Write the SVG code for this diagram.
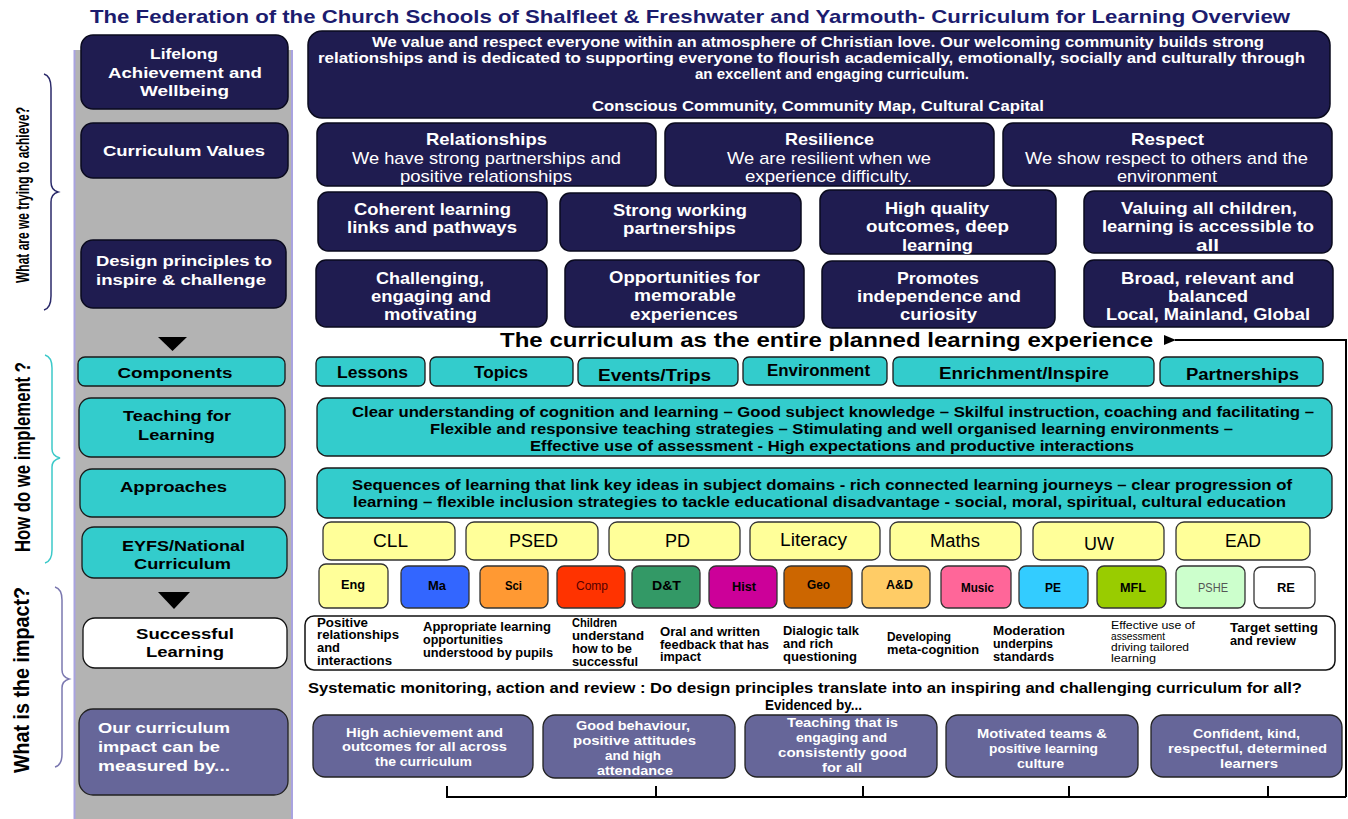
<svg xmlns="http://www.w3.org/2000/svg" width="1348" height="819" viewBox="0 0 1348 819">
<defs>
<style>
.nv{fill:#1f1c50;stroke:#0a0a1e;stroke-width:1.5}
.tl{fill:#33cccc;stroke:#1a1a1a;stroke-width:1.3}
.yl{fill:#ffff99;stroke:#333;stroke-width:1.3}
.pu{fill:#666699;stroke:#222;stroke-width:1.3}
.wb{fill:#fff;stroke:#111;stroke-width:1.3}
text{font-family:"Liberation Sans",Arial,sans-serif}
.w{fill:#fff;font-weight:bold}
.k{fill:#000;font-weight:bold}
.r{fill:#000;font-weight:normal}
.n{font-family:"Liberation Sans Narrow","Liberation Sans",Arial,sans-serif;font-stretch:condensed}
.c{text-anchor:middle}
.conn{fill:none;stroke:#000;stroke-width:2}
</style>
<marker id="ah" markerWidth="12" markerHeight="10" refX="1" refY="5" orient="auto" markerUnits="userSpaceOnUse">
<path d="M12,0 L0,5 L12,10 Z" fill="#000"/>
</marker>
</defs>
<rect x="0" y="0" width="1348" height="819" fill="#fff"/>

<!-- title -->
<text x="690" y="23" class="c" font-size="19" font-weight="bold" fill="#1c1c6e" textLength="1200" lengthAdjust="spacingAndGlyphs">The Federation of the Church Schools of Shalfleet &amp; Freshwater and Yarmouth- Curriculum for Learning Overview</text>

<!-- gray column -->
<rect x="74" y="50" width="218" height="775" fill="#b3b3b3"/>
<line x1="74.5" y1="50" x2="74.5" y2="819" stroke="#a9a3e0" stroke-width="2"/>
<line x1="292" y1="50" x2="292" y2="819" stroke="#a9a3e0" stroke-width="2"/>

<!-- side labels and braces -->
<g id="label-achieve">
<text transform="translate(29,195) rotate(-90)" class="c k n" font-size="19" textLength="176" lengthAdjust="spacingAndGlyphs">What are we trying to achieve?</text>
<path d="M44,74 Q51,76 51,88 L51,182 Q51,190 58,192 Q51,194 51,202 L51,296 Q51,308 44,310" fill="none" stroke="#2b2a6a" stroke-width="1.5"/>
</g>
<g id="label-implement">
<text transform="translate(30,457) rotate(-90)" class="c k n" font-size="22" textLength="190" lengthAdjust="spacingAndGlyphs">How do we implement ?</text>
<path d="M45,355 Q52,357 52,368 L52,449 Q52,456 60,458 Q52,460 52,467 L52,550 Q52,561 45,563" fill="none" stroke="#3cc9c9" stroke-width="1.5"/>
</g>
<g id="label-impact">
<text transform="translate(29,680) rotate(-90)" class="c k" font-size="22" textLength="186" lengthAdjust="spacingAndGlyphs">What is the impact?</text>
<path d="M55,587 Q62,589 62,600 L62,670 Q62,677 69,679 Q62,681 62,688 L62,754 Q62,765 55,767" fill="none" stroke="#7b78b0" stroke-width="1.5"/>
</g>

<!-- left column nodes -->
<g id="n-lifelong">
<rect x="81" y="35" width="207" height="74" rx="12" class="nv"/>
<text x="184" y="59" class="c w" font-size="15.5" textLength="68" lengthAdjust="spacingAndGlyphs">Lifelong</text>
<text x="185" y="78" class="c w" font-size="15.5" textLength="154" lengthAdjust="spacingAndGlyphs">Achievement and</text>
<text x="184.5" y="96" class="c w" font-size="15.5" textLength="89" lengthAdjust="spacingAndGlyphs">Wellbeing</text>
</g>
<g id="n-values">
<rect x="81" y="123" width="207" height="55" rx="12" class="nv"/>
<text x="184" y="156" class="c w" font-size="15.5" textLength="162" lengthAdjust="spacingAndGlyphs">Curriculum Values</text>
</g>
<g id="n-design">
<rect x="81" y="240" width="205" height="68" rx="12" class="nv"/>
<text x="184" y="266" class="c w" font-size="15.5" textLength="176" lengthAdjust="spacingAndGlyphs">Design principles to</text>
<text x="181" y="285" class="c w" font-size="15.5" textLength="170" lengthAdjust="spacingAndGlyphs">inspire &amp; challenge</text>
</g>
<path id="tri1" d="M158,337 L187,337 L172.5,351 Z" fill="#000"/>
<g id="n-components">
<rect x="78" y="357" width="207" height="29" rx="7" class="tl"/>
<text x="175" y="378" class="c k" font-size="15.5" textLength="115" lengthAdjust="spacingAndGlyphs">Components</text>
</g>
<g id="n-teaching">
<rect x="79" y="398" width="206" height="59" rx="12" class="tl"/>
<text x="177" y="421" class="c k" font-size="15.5" textLength="108" lengthAdjust="spacingAndGlyphs">Teaching for</text>
<text x="176.5" y="440" class="c k" font-size="15.5" textLength="77" lengthAdjust="spacingAndGlyphs">Learning</text>
</g>
<g id="n-approaches">
<rect x="80" y="469" width="205" height="48" rx="12" class="tl"/>
<text x="173.5" y="492" class="c k" font-size="15.5" textLength="107" lengthAdjust="spacingAndGlyphs">Approaches</text>
</g>
<g id="n-eyfs">
<rect x="82" y="527" width="205" height="51" rx="12" class="tl"/>
<text x="183.5" y="551" class="c k" font-size="15.5" textLength="123" lengthAdjust="spacingAndGlyphs">EYFS/National</text>
<text x="182.5" y="569" class="c k" font-size="15.5" textLength="97" lengthAdjust="spacingAndGlyphs">Curriculum</text>
</g>
<path id="tri2" d="M158,592 L190,592 L174,609 Z" fill="#000"/>
<g id="n-successful">
<rect x="83" y="618" width="204" height="50" rx="12" class="wb"/>
<text x="185" y="639" class="c k" font-size="15.5" textLength="98" lengthAdjust="spacingAndGlyphs">Successful</text>
<text x="185" y="657" class="c k" font-size="15.5" textLength="78" lengthAdjust="spacingAndGlyphs">Learning</text>
</g>
<g id="n-measured">
<rect x="79" y="709" width="209" height="86" rx="14" class="pu"/>
<text x="98" y="733" class="w" font-size="15.5" textLength="132" lengthAdjust="spacingAndGlyphs">Our curriculum</text>
<text x="98" y="752" class="w" font-size="15.5" textLength="122" lengthAdjust="spacingAndGlyphs">impact can be</text>
<text x="98" y="771" class="w" font-size="15.5" textLength="132" lengthAdjust="spacingAndGlyphs">measured by...</text>
</g>

<!-- vision -->
<g id="n-vision">
<rect x="308" y="31" width="1022" height="87" rx="14" class="nv"/>
<text x="818" y="47" class="c w" font-size="14.5" textLength="892" lengthAdjust="spacingAndGlyphs">We value and respect everyone within an atmosphere of Christian love. Our welcoming community builds strong</text>
<text x="811.5" y="63" class="c w" font-size="14.5" textLength="987" lengthAdjust="spacingAndGlyphs">relationships and is dedicated to supporting everyone to flourish academically, emotionally, socially and culturally through</text>
<text x="832" y="79" class="c w" font-size="14.5" textLength="274" lengthAdjust="spacingAndGlyphs">an excellent and engaging curriculum.</text>
<text x="818" y="111" class="c w" font-size="14.5" textLength="452" lengthAdjust="spacingAndGlyphs">Conscious Community, Community Map, Cultural Capital</text>
</g>

<!-- values -->
<g id="n-relationships">
<rect x="317" y="123" width="339" height="63" rx="10" class="nv"/>
<text x="486.5" y="145" class="c w n" font-size="17" textLength="121" lengthAdjust="spacingAndGlyphs">Relationships</text>
<text x="486.5" y="164" class="c n" fill="#fff" font-size="17" textLength="269" lengthAdjust="spacingAndGlyphs">We have strong partnerships and</text>
<text x="486" y="182" class="c n" fill="#fff" font-size="17" textLength="172" lengthAdjust="spacingAndGlyphs">positive relationships</text>
</g>
<g id="n-resilience">
<rect x="665" y="123" width="329" height="63" rx="10" class="nv"/>
<text x="829.5" y="145" class="c w n" font-size="17" textLength="89" lengthAdjust="spacingAndGlyphs">Resilience</text>
<text x="829" y="164" class="c n" fill="#fff" font-size="17" textLength="204" lengthAdjust="spacingAndGlyphs">We are resilient when we</text>
<text x="828.5" y="182" class="c n" fill="#fff" font-size="17" textLength="167" lengthAdjust="spacingAndGlyphs">experience difficulty.</text>
</g>
<g id="n-respect">
<rect x="1003" y="123" width="329" height="63" rx="10" class="nv"/>
<text x="1167.5" y="145" class="c w n" font-size="17" textLength="73" lengthAdjust="spacingAndGlyphs">Respect</text>
<text x="1166.5" y="164" class="c n" fill="#fff" font-size="17" textLength="283" lengthAdjust="spacingAndGlyphs">We show respect to others and the</text>
<text x="1167" y="182" class="c n" fill="#fff" font-size="17" textLength="100" lengthAdjust="spacingAndGlyphs">environment</text>
</g>

<!-- design principles -->
<g id="n-coherent">
<rect x="318" y="192" width="229" height="59" rx="10" class="nv"/>
<text x="432.5" y="215" class="c w n" font-size="17" textLength="157" lengthAdjust="spacingAndGlyphs">Coherent learning</text>
<text x="432" y="233" class="c w n" font-size="17" textLength="170" lengthAdjust="spacingAndGlyphs">links and pathways</text>
</g>
<g id="n-strong">
<rect x="560" y="193" width="241" height="58" rx="10" class="nv"/>
<text x="680" y="216" class="c w n" font-size="17" textLength="134" lengthAdjust="spacingAndGlyphs">Strong working</text>
<text x="679.5" y="234" class="c w n" font-size="17" textLength="113" lengthAdjust="spacingAndGlyphs">partnerships</text>
</g>
<g id="n-highquality">
<rect x="820" y="190" width="236" height="64" rx="10" class="nv"/>
<text x="937" y="214" class="c w n" font-size="17" textLength="104" lengthAdjust="spacingAndGlyphs">High quality</text>
<text x="937.5" y="232" class="c w n" font-size="17" textLength="143" lengthAdjust="spacingAndGlyphs">outcomes, deep</text>
<text x="937.5" y="251" class="c w n" font-size="17" textLength="71" lengthAdjust="spacingAndGlyphs">learning</text>
</g>
<g id="n-valuing">
<rect x="1084" y="191" width="248" height="62" rx="10" class="nv"/>
<text x="1209" y="214" class="c w n" font-size="17" textLength="176" lengthAdjust="spacingAndGlyphs">Valuing all children,</text>
<text x="1208" y="232" class="c w n" font-size="17" textLength="212" lengthAdjust="spacingAndGlyphs">learning is accessible to</text>
<text x="1207.5" y="251" class="c w n" font-size="17" textLength="23" lengthAdjust="spacingAndGlyphs">all</text>
</g>
<g id="n-challenging">
<rect x="316" y="260" width="231" height="67" rx="10" class="nv"/>
<text x="430" y="284" class="c w n" font-size="17" textLength="108" lengthAdjust="spacingAndGlyphs">Challenging,</text>
<text x="431" y="302" class="c w n" font-size="17" textLength="120" lengthAdjust="spacingAndGlyphs">engaging and</text>
<text x="430.5" y="320" class="c w n" font-size="17" textLength="93" lengthAdjust="spacingAndGlyphs">motivating</text>
</g>
<g id="n-opportunities">
<rect x="565" y="260" width="239" height="67" rx="10" class="nv"/>
<text x="684.5" y="283" class="c w n" font-size="17" textLength="151" lengthAdjust="spacingAndGlyphs">Opportunities for</text>
<text x="685" y="301" class="c w n" font-size="17" textLength="102" lengthAdjust="spacingAndGlyphs">memorable</text>
<text x="684" y="320" class="c w n" font-size="17" textLength="108" lengthAdjust="spacingAndGlyphs">experiences</text>
</g>
<g id="n-promotes">
<rect x="822" y="261" width="233" height="67" rx="10" class="nv"/>
<text x="938" y="284" class="c w n" font-size="17" textLength="82" lengthAdjust="spacingAndGlyphs">Promotes</text>
<text x="939" y="302" class="c w n" font-size="17" textLength="164" lengthAdjust="spacingAndGlyphs">independence and</text>
<text x="938.5" y="320" class="c w n" font-size="17" textLength="77" lengthAdjust="spacingAndGlyphs">curiosity</text>
</g>
<g id="n-broad">
<rect x="1084" y="260" width="249" height="67" rx="10" class="nv"/>
<text x="1207.5" y="284" class="c w n" font-size="17" textLength="173" lengthAdjust="spacingAndGlyphs">Broad, relevant and</text>
<text x="1208" y="302" class="c w n" font-size="17" textLength="80" lengthAdjust="spacingAndGlyphs">balanced</text>
<text x="1208" y="320" class="c w n" font-size="17" textLength="204" lengthAdjust="spacingAndGlyphs">Local, Mainland, Global</text>
</g>

<!-- curriculum statement -->
<g id="n-statement">
<text x="826.5" y="347" class="c k" font-size="20" textLength="653" lengthAdjust="spacingAndGlyphs">The curriculum as the entire planned learning experience</text>
</g>

<!-- components -->
<g id="n-lessons"><rect x="316" y="357" width="109" height="29" rx="6" class="tl"/><text x="372.5" y="378" class="c k n" font-size="16" textLength="71" lengthAdjust="spacingAndGlyphs">Lessons</text></g>
<g id="n-topics"><rect x="430" y="357" width="143" height="29" rx="6" class="tl"/><text x="501" y="378" class="c k n" font-size="16" textLength="54" lengthAdjust="spacingAndGlyphs">Topics</text></g>
<g id="n-events"><rect x="578" y="358" width="160" height="28" rx="6" class="tl"/><text x="654.5" y="381" class="c k n" font-size="16" textLength="113" lengthAdjust="spacingAndGlyphs">Events/Trips</text></g>
<g id="n-environment"><rect x="743" y="357" width="144" height="28" rx="6" class="tl"/><text x="818.5" y="376" class="c k n" font-size="16" textLength="103" lengthAdjust="spacingAndGlyphs">Environment</text></g>
<g id="n-enrichment"><rect x="893" y="357" width="261" height="29" rx="6" class="tl"/><text x="1024" y="379" class="c k n" font-size="16" textLength="170" lengthAdjust="spacingAndGlyphs">Enrichment/Inspire</text></g>
<g id="n-partnerships"><rect x="1160" y="357" width="163" height="29" rx="6" class="tl"/><text x="1242.5" y="380" class="c k n" font-size="16" textLength="113" lengthAdjust="spacingAndGlyphs">Partnerships</text></g>

<!-- teaching -->
<g id="n-teaching-detail">
<rect x="317" y="398" width="1015" height="58" rx="10" class="tl"/>
<text x="833" y="417" class="c k n" font-size="15" textLength="962" lengthAdjust="spacingAndGlyphs">Clear understanding of cognition and learning – Good subject knowledge  – Skilful instruction, coaching and facilitating –</text>
<text x="831.5" y="434" class="c k n" font-size="15" textLength="803" lengthAdjust="spacingAndGlyphs">Flexible and responsive teaching strategies – Stimulating and well organised learning environments –</text>
<text x="832" y="451" class="c k n" font-size="15" textLength="604" lengthAdjust="spacingAndGlyphs">Effective use of assessment - High expectations and productive interactions</text>
</g>

<!-- approaches -->
<g id="n-approaches-detail">
<rect x="317" y="468" width="1015" height="50" rx="10" class="tl"/>
<text x="822" y="490" class="c k n" font-size="15" textLength="940" lengthAdjust="spacingAndGlyphs">Sequences of learning that link key ideas in subject domains - rich connected learning journeys – clear progression of</text>
<text x="819.5" y="507" class="c k n" font-size="15" textLength="933" lengthAdjust="spacingAndGlyphs">learning – flexible inclusion strategies to tackle educational disadvantage -  social, moral, spiritual, cultural education</text>
</g>

<!-- EYFS areas -->
<g id="n-cll"><rect x="323" y="522" width="132" height="38" rx="8" class="yl"/><text x="390.5" y="547" class="c r n" font-size="18" textLength="35" lengthAdjust="spacingAndGlyphs">CLL</text></g>
<g id="n-psed"><rect x="466" y="522" width="132" height="38" rx="8" class="yl"/><text x="533.5" y="547" class="c r n" font-size="18" textLength="49" lengthAdjust="spacingAndGlyphs">PSED</text></g>
<g id="n-pd"><rect x="609" y="522" width="131" height="38" rx="8" class="yl"/><text x="677.5" y="547" class="c r n" font-size="18" textLength="25" lengthAdjust="spacingAndGlyphs">PD</text></g>
<g id="n-literacy"><rect x="750" y="522" width="130" height="38" rx="8" class="yl"/><text x="813.5" y="546" class="c r n" font-size="18" textLength="67" lengthAdjust="spacingAndGlyphs">Literacy</text></g>
<g id="n-maths"><rect x="890" y="522" width="131" height="38" rx="8" class="yl"/><text x="955" y="547" class="c r n" font-size="18" textLength="50" lengthAdjust="spacingAndGlyphs">Maths</text></g>
<g id="n-uw"><rect x="1033" y="522" width="131" height="38" rx="8" class="yl"/><text x="1099" y="550" class="c r n" font-size="18" textLength="30" lengthAdjust="spacingAndGlyphs">UW</text></g>
<g id="n-ead"><rect x="1176" y="522" width="134" height="38" rx="8" class="yl"/><text x="1243" y="547" class="c r n" font-size="18" textLength="36" lengthAdjust="spacingAndGlyphs">EAD</text></g>

<!-- subjects -->
<g id="n-eng"><rect x="319" y="564" width="69" height="44" rx="7" fill="#ffff99" stroke="#333" stroke-width="1.3"/><text x="353" y="589" class="c k n" font-size="12.5" textLength="24" lengthAdjust="spacingAndGlyphs">Eng</text></g>
<g id="n-ma"><rect x="401" y="566" width="68" height="42" rx="7" fill="#3366ff" stroke="#333" stroke-width="1.3"/><text x="437" y="590" class="c k n" font-size="12.5" textLength="18" lengthAdjust="spacingAndGlyphs">Ma</text></g>
<g id="n-sci"><rect x="480" y="566" width="68" height="42" rx="7" fill="#ff9933" stroke="#333" stroke-width="1.3"/><text x="513.5" y="590" class="c k n" font-size="12.5" textLength="17" lengthAdjust="spacingAndGlyphs">Sci</text></g>
<g id="n-comp"><rect x="557" y="566" width="68" height="42" rx="7" fill="#ff3300" stroke="#333" stroke-width="1.3"/><text x="592" y="590" class="c n" fill="#550000" font-size="12.5" textLength="32" lengthAdjust="spacingAndGlyphs">Comp</text></g>
<g id="n-dt"><rect x="632" y="566" width="68" height="42" rx="7" fill="#339966" stroke="#333" stroke-width="1.3"/><text x="666.5" y="590" class="c k n" font-size="12.5" textLength="29" lengthAdjust="spacingAndGlyphs">D&amp;T</text></g>
<g id="n-hist"><rect x="709" y="566" width="68" height="42" rx="7" fill="#cc0099" stroke="#333" stroke-width="1.3"/><text x="744" y="591" class="c k n" font-size="12.5" textLength="24" lengthAdjust="spacingAndGlyphs">Hist</text></g>
<g id="n-geo"><rect x="784" y="566" width="68" height="42" rx="7" fill="#cc6600" stroke="#333" stroke-width="1.3"/><text x="818.5" y="589" class="c k n" font-size="12.5" textLength="23" lengthAdjust="spacingAndGlyphs">Geo</text></g>
<g id="n-ad"><rect x="862" y="566" width="68" height="42" rx="7" fill="#ffcc66" stroke="#333" stroke-width="1.3"/><text x="899.5" y="589" class="c k n" font-size="12.5" textLength="27" lengthAdjust="spacingAndGlyphs">A&amp;D</text></g>
<g id="n-music"><rect x="941" y="566" width="70" height="42" rx="7" fill="#ff6699" stroke="#333" stroke-width="1.3"/><text x="977.5" y="592" class="c k n" font-size="12.5" textLength="33" lengthAdjust="spacingAndGlyphs">Music</text></g>
<g id="n-pe"><rect x="1019" y="566" width="69" height="42" rx="7" fill="#33ccff" stroke="#333" stroke-width="1.3"/><text x="1053" y="592" class="c k n" font-size="12.5" textLength="16" lengthAdjust="spacingAndGlyphs">PE</text></g>
<g id="n-mfl"><rect x="1097" y="566" width="69" height="42" rx="7" fill="#99cc00" stroke="#333" stroke-width="1.3"/><text x="1133" y="592" class="c k n" font-size="12.5" textLength="26" lengthAdjust="spacingAndGlyphs">MFL</text></g>
<g id="n-pshe"><rect x="1176" y="566" width="69" height="42" rx="7" fill="#ccffcc" stroke="#333" stroke-width="1.3"/><text x="1213" y="592" class="c n" fill="#555" font-size="12.5" textLength="30" lengthAdjust="spacingAndGlyphs">PSHE</text></g>
<g id="n-re"><rect x="1254" y="567" width="61" height="41" rx="7" fill="#fff" stroke="#333" stroke-width="1.3"/><text x="1286" y="592" class="c k n" font-size="12.5" textLength="18" lengthAdjust="spacingAndGlyphs">RE</text></g>

<!-- successful learning features -->
<g id="n-features">
<rect x="305" y="616" width="1030" height="54" rx="9" fill="#fff" stroke="#111" stroke-width="1.5"/>
<g class="k n" font-size="12">
<text x="317" y="627" textLength="51" lengthAdjust="spacingAndGlyphs">Positive</text>
<text x="317" y="639" textLength="82" lengthAdjust="spacingAndGlyphs">relationships</text>
<text x="317" y="652" textLength="23" lengthAdjust="spacingAndGlyphs">and</text>
<text x="317" y="665" textLength="75" lengthAdjust="spacingAndGlyphs">interactions</text>
<text x="423" y="631" textLength="128" lengthAdjust="spacingAndGlyphs">Appropriate learning</text>
<text x="423" y="644" textLength="80" lengthAdjust="spacingAndGlyphs">opportunities</text>
<text x="423" y="657" textLength="130" lengthAdjust="spacingAndGlyphs">understood by pupils</text>
<text x="572" y="627" textLength="45" lengthAdjust="spacingAndGlyphs">Children</text>
<text x="572" y="640" textLength="72" lengthAdjust="spacingAndGlyphs">understand</text>
<text x="572" y="653" textLength="60" lengthAdjust="spacingAndGlyphs">how to be</text>
<text x="572" y="666" textLength="66" lengthAdjust="spacingAndGlyphs">successful</text>
<text x="660" y="636" textLength="100" lengthAdjust="spacingAndGlyphs">Oral and written</text>
<text x="660" y="649" textLength="109" lengthAdjust="spacingAndGlyphs">feedback that has</text>
<text x="660" y="661" textLength="41" lengthAdjust="spacingAndGlyphs">impact</text>
<text x="783" y="635" textLength="76" lengthAdjust="spacingAndGlyphs">Dialogic talk</text>
<text x="783" y="648" textLength="50" lengthAdjust="spacingAndGlyphs">and rich</text>
<text x="783" y="661" textLength="74" lengthAdjust="spacingAndGlyphs">questioning</text>
<text x="887" y="641" textLength="64" lengthAdjust="spacingAndGlyphs">Developing</text>
<text x="887" y="654" textLength="92" lengthAdjust="spacingAndGlyphs">meta-cognition</text>
<text x="993" y="635" textLength="72" lengthAdjust="spacingAndGlyphs">Moderation</text>
<text x="993" y="648" textLength="60" lengthAdjust="spacingAndGlyphs">underpins</text>
<text x="993" y="661" textLength="61" lengthAdjust="spacingAndGlyphs">standards</text>
<text x="1230" y="632" textLength="88" lengthAdjust="spacingAndGlyphs">Target setting</text>
<text x="1230" y="645" textLength="66" lengthAdjust="spacingAndGlyphs">and review</text>
</g>
<g class="r n" font-size="10.5">
<text x="1111" y="629" textLength="84" lengthAdjust="spacingAndGlyphs">Effective use of</text>
<text x="1111" y="640" textLength="54" lengthAdjust="spacingAndGlyphs">assessment</text>
<text x="1111" y="651" textLength="78" lengthAdjust="spacingAndGlyphs">driving tailored</text>
<text x="1111" y="662" textLength="45" lengthAdjust="spacingAndGlyphs">learning</text>
</g>
</g>

<!-- monitoring -->
<g id="n-monitoring">
<text x="805" y="693" class="c k n" font-size="15" textLength="994" lengthAdjust="spacingAndGlyphs">Systematic monitoring, action and review : Do design principles translate into an inspiring and challenging curriculum for all?</text>
<text x="813.5" y="710" class="c k n" font-size="15" textLength="97" lengthAdjust="spacingAndGlyphs">Evidenced by...</text>
</g>

<!-- evidence -->
<g id="n-ev1"><rect x="313" y="715" width="220" height="62" rx="12" class="pu"/>
<text x="424.5" y="737" class="c w n" font-size="13.5" textLength="157" lengthAdjust="spacingAndGlyphs">High achievement  and</text>
<text x="424.5" y="751" class="c w n" font-size="13.5" textLength="165" lengthAdjust="spacingAndGlyphs">outcomes  for all  across</text>
<text x="423.5" y="766" class="c w n" font-size="13.5" textLength="97" lengthAdjust="spacingAndGlyphs">the curriculum</text></g>
<g id="n-ev2"><rect x="543" y="715" width="192" height="63" rx="12" class="pu"/>
<text x="633" y="730" class="c w n" font-size="13.5" textLength="114" lengthAdjust="spacingAndGlyphs">Good behaviour,</text>
<text x="634.5" y="745" class="c w n" font-size="13.5" textLength="123" lengthAdjust="spacingAndGlyphs">positive attitudes</text>
<text x="633" y="760" class="c w n" font-size="13.5" textLength="56" lengthAdjust="spacingAndGlyphs">and high</text>
<text x="635" y="775" class="c w n" font-size="13.5" textLength="76" lengthAdjust="spacingAndGlyphs">attendance</text></g>
<g id="n-ev3"><rect x="745" y="715" width="192" height="62" rx="12" class="pu"/>
<text x="842.5" y="727" class="c w n" font-size="13.5" textLength="111" lengthAdjust="spacingAndGlyphs">Teaching  that is</text>
<text x="841.5" y="742" class="c w n" font-size="13.5" textLength="91" lengthAdjust="spacingAndGlyphs">engaging  and</text>
<text x="842.5" y="757" class="c w n" font-size="13.5" textLength="129" lengthAdjust="spacingAndGlyphs">consistently   good</text>
<text x="842" y="772" class="c w n" font-size="13.5" textLength="40" lengthAdjust="spacingAndGlyphs">for all</text></g>
<g id="n-ev4"><rect x="946" y="715" width="192" height="62" rx="12" class="pu"/>
<text x="1042" y="738" class="c w n" font-size="13.5" textLength="130" lengthAdjust="spacingAndGlyphs">Motivated  teams &amp;</text>
<text x="1043.5" y="753" class="c w n" font-size="13.5" textLength="109" lengthAdjust="spacingAndGlyphs">positive  learning</text>
<text x="1040.5" y="768" class="c w n" font-size="13.5" textLength="47" lengthAdjust="spacingAndGlyphs">culture</text></g>
<g id="n-ev5"><rect x="1151" y="715" width="191" height="62" rx="12" class="pu"/>
<text x="1246.5" y="738" class="c w n" font-size="13.5" textLength="107" lengthAdjust="spacingAndGlyphs">Confident, kind,</text>
<text x="1247.5" y="753" class="c w n" font-size="13.5" textLength="159" lengthAdjust="spacingAndGlyphs">respectful, determined</text>
<text x="1249" y="768" class="c w n" font-size="13.5" textLength="58" lengthAdjust="spacingAndGlyphs">learners</text></g>

<!-- connectors -->
<g id="connectors">
<path class="conn" d="M1346,797 L1346,340 L1175,340" marker-end="url(#ah)"/>
<path class="conn" d="M447,786 L447,797 L1346,797"/>
<path class="conn" d="M656,786 L656,797 M863,786 L863,797 M1069,786 L1069,797 M1268,786 L1268,797"/>
</g>
</svg>
